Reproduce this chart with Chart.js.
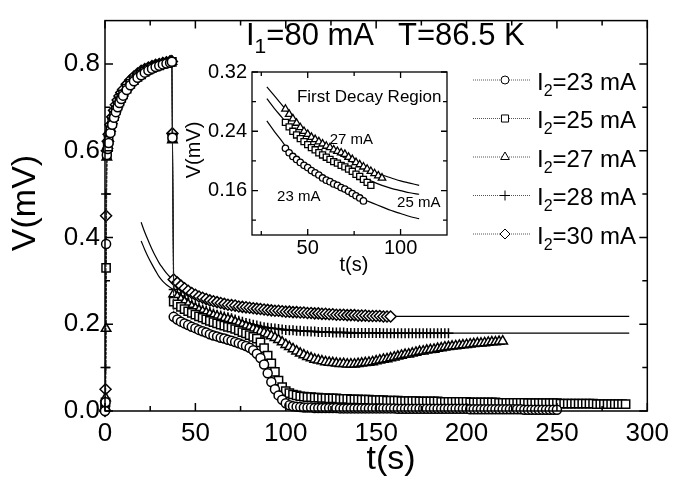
<!DOCTYPE html>
<html>
<head>
<meta charset="utf-8">
<script src="https://cdn.jsdelivr.net/npm/chart.js@4.4.1/dist/chart.umd.min.js"></script>
<style>
  body { margin: 0; background: #fff; }
  #wrap { position: relative; width: 676px; height: 488px; }
  #mainChart { position: absolute; left: 0; top: 0; }
  #insetChart { position: absolute; left: 170px; top: 55px; }
</style>
</head>
<body>
<div id="wrap">
  <canvas id="mainChart" width="676" height="488"></canvas>
  <canvas id="insetChart" width="290" height="225"></canvas>
</div>
<script>
const FONT = "'Liberation Sans', Arial, sans-serif";

// I2 values (mA), one series each
const seriesKeys = ["23", "25", "27", "28", "30"];

// time (s) of the rise part, then of the decay part
const riseTimes = [0, 0.3, 0.6, 1, 1.5, 2, 3, 4, 5, 6, 7, 8, 9, 10, 12, 14, 16, 18, 20, 22, 24, 26, 28, 30, 32, 34, 36, 37, 37.3];
const decayTimes = [38, 40, 42, 44, 46, 48, 50, 52, 54, 56, 58, 60, 62, 64, 66, 68, 70, 72, 74, 76, 78, 80, 82, 84, 86, 88, 90, 92, 94, 96, 98, 100,
  102, 104, 106, 108, 110, 112, 114, 116, 118, 120, 122, 124, 126, 128, 130, 132, 134, 136, 138, 140, 142, 144, 146, 148, 150, 152, 154, 156, 158, 160,
  162, 164, 166, 168, 170, 172, 174, 176, 178, 180, 182, 184, 186, 188, 190, 192, 194, 196, 198, 200, 202, 204, 206, 208, 210, 212, 214, 216, 218, 220,
  222, 224, 226, 228, 230, 232, 234, 236, 238, 240, 242, 244, 246, 248, 250, 252, 254, 256, 258, 260, 262, 264, 266, 268, 270, 272, 274, 276, 278, 280,
  282, 284, 286, 288];

// V (mV) during the rise
const rise23 = [0.0, 0.02, 0.385, 0.59, 0.604, 0.618, 0.641, 0.66, 0.676, 0.689, 0.7, 0.71, 0.719, 0.727, 0.74, 0.751, 0.76, 0.768, 0.774, 0.78, 0.785, 0.789, 0.793, 0.796, 0.799, 0.801, 0.803, 0.805, 0.63];
const rise25 = [0.01, 0.02, 0.33, 0.59, 0.608, 0.623, 0.646, 0.664, 0.68, 0.693, 0.704, 0.714, 0.722, 0.73, 0.743, 0.754, 0.763, 0.77, 0.776, 0.782, 0.787, 0.791, 0.794, 0.797, 0.8, 0.802, 0.804, 0.805, 0.63];
const rise27 = [0.01, 0.03, 0.19, 0.585, 0.612, 0.628, 0.651, 0.669, 0.684, 0.697, 0.708, 0.718, 0.726, 0.733, 0.746, 0.757, 0.765, 0.772, 0.778, 0.783, 0.788, 0.792, 0.795, 0.798, 0.801, 0.803, 0.805, 0.806, 0.625];
const rise28 = [0.02, 0.1, 0.5, 0.598, 0.618, 0.634, 0.656, 0.674, 0.689, 0.702, 0.713, 0.722, 0.73, 0.737, 0.75, 0.76, 0.768, 0.775, 0.781, 0.786, 0.79, 0.794, 0.797, 0.8, 0.802, 0.804, 0.805, 0.806, 0.635];
const rise30 = [0.0, 0.05, 0.45, 0.6, 0.622, 0.638, 0.66, 0.678, 0.693, 0.706, 0.717, 0.726, 0.734, 0.741, 0.753, 0.763, 0.771, 0.778, 0.784, 0.788, 0.792, 0.795, 0.798, 0.8, 0.802, 0.804, 0.806, 0.806, 0.64];

// V (mV) during the decay, from decayTimes[0] on
const decay23 = [0.217, 0.211, 0.206, 0.202, 0.198, 0.194, 0.191, 0.187, 0.184, 0.181,
  0.177, 0.174, 0.172, 0.169, 0.167, 0.164, 0.162, 0.159, 0.156, 0.153,
  0.150, 0.146, 0.140, 0.132, 0.122, 0.107, 0.087, 0.067, 0.050, 0.036,
  0.026, 0.018, 0.013, 0.011, 0.010, 0.009, 0.008, 0.008, 0.008, 0.007,
  0.007, 0.007, 0.007, 0.007, 0.007, 0.007, 0.006, 0.006, 0.006, 0.006,
  0.006, 0.006, 0.006, 0.006, 0.006, 0.006, 0.006, 0.006, 0.006, 0.006,
  0.006, 0.006, 0.005, 0.005, 0.005, 0.005, 0.005, 0.005, 0.005, 0.005,
  0.005, 0.005, 0.005, 0.005, 0.005, 0.005, 0.005, 0.005, 0.005, 0.005,
  0.005, 0.005, 0.004, 0.004, 0.004, 0.004, 0.004, 0.004, 0.004, 0.004,
  0.004, 0.004, 0.004, 0.004, 0.004, 0.004, 0.004, 0.003, 0.003, 0.003,
  0.003, 0.003, 0.003, 0.003, 0.003, 0.003, 0.003];
const decay25 = [0.252, 0.246, 0.240, 0.235, 0.230, 0.226, 0.222, 0.218, 0.215, 0.211,
  0.208, 0.205, 0.202, 0.199, 0.197, 0.194, 0.192, 0.189, 0.186, 0.182,
  0.179, 0.175, 0.171, 0.167, 0.158, 0.145, 0.128, 0.110, 0.090, 0.070,
  0.055, 0.046, 0.041, 0.038, 0.036, 0.034, 0.033, 0.032, 0.032, 0.031,
  0.031, 0.030, 0.030, 0.029, 0.029, 0.029, 0.028, 0.028, 0.028, 0.027,
  0.027, 0.027, 0.026, 0.026, 0.026, 0.025, 0.025, 0.025, 0.025, 0.024,
  0.024, 0.024, 0.024, 0.023, 0.023, 0.023, 0.023, 0.023, 0.022, 0.022,
  0.022, 0.022, 0.022, 0.022, 0.021, 0.021, 0.021, 0.021, 0.021, 0.021,
  0.021, 0.021, 0.020, 0.020, 0.020, 0.020, 0.020, 0.020, 0.020, 0.020,
  0.019, 0.019, 0.019, 0.019, 0.019, 0.019, 0.019, 0.019, 0.018, 0.018,
  0.018, 0.018, 0.018, 0.018, 0.018, 0.018, 0.018, 0.017, 0.017, 0.017,
  0.017, 0.017, 0.017, 0.017, 0.017, 0.017, 0.017, 0.016, 0.016, 0.016,
  0.016, 0.016, 0.016, 0.016, 0.016, 0.016];
const decay27 = [0.270, 0.263, 0.257, 0.251, 0.245, 0.240, 0.236, 0.232, 0.229, 0.226,
  0.223, 0.220, 0.218, 0.215, 0.213, 0.211, 0.209, 0.205, 0.202, 0.198,
  0.195, 0.192, 0.189, 0.186, 0.183, 0.180, 0.177, 0.173, 0.169, 0.164,
  0.159, 0.153, 0.148, 0.143, 0.138, 0.133, 0.129, 0.125, 0.122, 0.119,
  0.117, 0.115, 0.113, 0.112, 0.111, 0.110, 0.109, 0.109, 0.108, 0.108,
  0.108, 0.109, 0.110, 0.111, 0.112, 0.113, 0.115, 0.117, 0.119, 0.120,
  0.122, 0.124, 0.126, 0.128, 0.130, 0.131, 0.133, 0.135, 0.137, 0.138,
  0.140, 0.141, 0.142, 0.144, 0.145, 0.147, 0.148, 0.149, 0.150, 0.151,
  0.152, 0.153, 0.154, 0.155, 0.156, 0.156, 0.157, 0.158, 0.159, 0.159,
  0.160, 0.161];
const decay28 = [0.280, 0.272, 0.265, 0.258, 0.251, 0.246, 0.242, 0.238, 0.234, 0.231,
  0.228, 0.225, 0.222, 0.220, 0.218, 0.216, 0.214, 0.211, 0.208, 0.206,
  0.203, 0.201, 0.199, 0.197, 0.195, 0.193, 0.192, 0.191, 0.190, 0.189,
  0.188, 0.187, 0.186, 0.186, 0.185, 0.185, 0.184, 0.184, 0.183, 0.183,
  0.182, 0.182, 0.182, 0.182, 0.181, 0.181, 0.181, 0.181, 0.180, 0.180,
  0.180, 0.180, 0.180, 0.180, 0.180, 0.180, 0.180, 0.180, 0.179, 0.179,
  0.179, 0.179, 0.179, 0.179, 0.179, 0.179, 0.179, 0.179, 0.179, 0.179,
  0.179, 0.179, 0.179, 0.179, 0.179, 0.179, 0.179];
const decay30 = [0.303, 0.296, 0.289, 0.283, 0.277, 0.272, 0.268, 0.264, 0.261, 0.258,
  0.255, 0.253, 0.251, 0.249, 0.247, 0.245, 0.244, 0.243, 0.241, 0.240,
  0.239, 0.238, 0.237, 0.236, 0.235, 0.234, 0.233, 0.232, 0.231, 0.231,
  0.230, 0.229, 0.229, 0.228, 0.228, 0.227, 0.227, 0.226, 0.226, 0.225,
  0.225, 0.224, 0.224, 0.223, 0.223, 0.222, 0.222, 0.222, 0.221, 0.221,
  0.221, 0.220, 0.220, 0.220, 0.219, 0.219, 0.219, 0.219, 0.218, 0.218,
  0.218];

// fitted curves on the main plot (30 mA and 28 mA)
const fitTimes = [20, 22, 24, 26, 28, 30, 32, 34, 36, 38, 45, 50, 60, 70, 80, 90, 100, 120, 140, 160, 190, 220, 290];
const fit30 = [0.435, 0.412, 0.392, 0.373, 0.356, 0.341, 0.329, 0.318, 0.309, 0.302, 0.280, 0.268, 0.253, 0.244, 0.237, 0.233, 0.229, 0.224, 0.220, 0.218, 0.218, 0.218, 0.218];
const fit28 = [0.392, 0.372, 0.354, 0.338, 0.323, 0.309, 0.299, 0.291, 0.285, 0.279, 0.257, 0.243, 0.225, 0.213, 0.201, 0.193, 0.188, 0.183, 0.181, 0.180, 0.1795, 0.1795, 0.1795];

// inset: first decay region (23, 25, 27 mA) and its fits
const insetKeys = ["23", "25", "27"];
const insetCounts = [22, 24, 27];
const insetFitTimes = [28, 32, 36, 40, 45, 50, 55, 60, 65, 70, 75, 80, 85, 90, 95, 100, 105, 110];
const insetFit23 = [0.254, 0.240, 0.227, 0.213, 0.200, 0.190, 0.181, 0.173, 0.166, 0.160, 0.154, 0.148, 0.143, 0.138, 0.133, 0.129, 0.125, 0.122];
const insetFit25 = [0.284, 0.271, 0.259, 0.247, 0.234, 0.222, 0.212, 0.204, 0.197, 0.190, 0.184, 0.178, 0.172, 0.167, 0.163, 0.160, 0.157, 0.155];
const insetFit27 = [0.300, 0.288, 0.276, 0.264, 0.250, 0.238, 0.228, 0.219, 0.211, 0.204, 0.197, 0.191, 0.186, 0.181, 0.177, 0.173, 0.170, 0.167];

// ticks
const xTicks = [0, 50, 100, 150, 200, 250, 300];
const xMinor = [25, 75, 125, 175, 225, 275];
const yTicks = [0, 0.2, 0.4, 0.6, 0.8];
const yMinor = [0.1, 0.3, 0.5, 0.7];
const insetXTicks = [50, 100];
const insetXMinor = [25, 75];
const insetYTicks = [0.16, 0.24, 0.32];
const insetYMinor = [0.12, 0.20, 0.28];

const rises = { "23": rise23, "25": rise25, "27": rise27, "28": rise28, "30": rise30 };
const decays = { "23": decay23, "25": decay25, "27": decay27, "28": decay28, "30": decay30 };

// marker style, radius on main plot, radius in inset, radius in legend
const marker = {
  "23": ["circle", 4.5, 3.2, 4],
  "25": ["rect", 5.8, 4.3, 5],
  "27": ["triangle", 5.5, 4.3, 5],
  "28": ["cross", 5, 4, 5],
  "30": ["rectRot", 5.5, 4, 5]
};

function markerSet(points, style, r, bw) {
  return {
    data: points,
    pointStyle: style,
    pointRadius: r,
    pointBackgroundColor: "#fff",
    pointBorderColor: "#000",
    pointBorderWidth: bw,
    borderColor: "#222",
    borderWidth: 1,
    borderDash: [3, 1],
    clip: false
  };
}

function fitSet(times, vals, w) {
  return {
    data: times.map((t, i) => ({ x: t, y: vals[i] })),
    pointRadius: 0,
    borderColor: "#000",
    borderWidth: w,
    cubicInterpolationMode: "monotone"
  };
}

function frameTicks(xMajor, xMin, yMajor, yMin, majLen, minLen, lw) {
  return {
    id: "frameTicks",
    afterDatasetsDraw(chart) {
      const { ctx, chartArea: a } = chart;
      const sx = chart.scales.x, sy = chart.scales.y;
      ctx.save();
      ctx.strokeStyle = "#000";
      ctx.lineWidth = lw;
      ctx.strokeRect(a.left, a.top, a.right - a.left, a.bottom - a.top);
      ctx.beginPath();
      const xt = (v, len) => {
        const p = sx.getPixelForValue(v);
        ctx.moveTo(p, a.bottom); ctx.lineTo(p, a.bottom - len);
        ctx.moveTo(p, a.top); ctx.lineTo(p, a.top + len);
      };
      const yt = (v, len) => {
        const p = sy.getPixelForValue(v);
        ctx.moveTo(a.left, p); ctx.lineTo(a.left + len, p);
        ctx.moveTo(a.right, p); ctx.lineTo(a.right - len, p);
      };
      xMajor.forEach(v => xt(v, majLen));
      xMin.forEach(v => xt(v, minLen));
      yMajor.forEach(v => yt(v, majLen));
      yMin.forEach(v => yt(v, minLen));
      ctx.stroke();
      ctx.restore();
    }
  };
}

// text with one subscript, e.g. I + 1 + "=80 mA"
function subText(ctx, x, y, head, sub, rest, size, subSize) {
  ctx.font = size + "px " + FONT;
  ctx.fillText(head, x, y);
  x += ctx.measureText(head).width;
  ctx.font = subSize + "px " + FONT;
  ctx.fillText(sub, x, y + size * 0.27);
  x += ctx.measureText(sub).width;
  ctx.font = size + "px " + FONT;
  ctx.fillText(rest, x, y);
}

function drawMarker(ctx, style, x, y, r) {
  ctx.beginPath();
  if (style === "circle") {
    ctx.arc(x, y, r, 0, Math.PI * 2);
  } else if (style === "rect") {
    const s = r * Math.SQRT1_2;
    ctx.rect(x - s, y - s, 2 * s, 2 * s);
  } else if (style === "triangle") {
    for (let i = 0; i < 3; i++) {
      const ang = i * 2 * Math.PI / 3;
      const px = x + Math.sin(ang) * r, py = y - Math.cos(ang) * r;
      if (i === 0) ctx.moveTo(px, py); else ctx.lineTo(px, py);
    }
    ctx.closePath();
  } else if (style === "rectRot") {
    ctx.moveTo(x - r, y); ctx.lineTo(x, y - r); ctx.lineTo(x + r, y); ctx.lineTo(x, y + r);
    ctx.closePath();
  } else {
    ctx.moveTo(x, y - r); ctx.lineTo(x, y + r);
    ctx.moveTo(x - r, y); ctx.lineTo(x + r, y);
  }
  if (style !== "cross") { ctx.fillStyle = "#fff"; ctx.fill(); }
  ctx.stroke();
}

const mainText = {
  id: "mainText",
  afterDraw(chart) {
    const ctx = chart.ctx;
    ctx.save();
    ctx.fillStyle = "#000";
    ctx.textBaseline = "alphabetic";
    ctx.textAlign = "left";
    subText(ctx, 246, 45, "I", "1", "=80 mA", 31, 21);
    ctx.font = "31px " + FONT;
    ctx.fillText("T=86.5 K", 398, 45);

    // legend
    seriesKeys.forEach((k, i) => {
      const y = 80 + i * 38.5;
      ctx.strokeStyle = "#555";
      ctx.lineWidth = 1;
      ctx.setLineDash([1, 1]);
      ctx.beginPath();
      ctx.moveTo(473, y); ctx.lineTo(530, y);
      ctx.stroke();
      ctx.setLineDash([]);
      ctx.strokeStyle = "#000";
      drawMarker(ctx, marker[k][0], 505, y, marker[k][3]);
      ctx.fillStyle = "#000";
      subText(ctx, 537, y + 9.5, "I", "2", "=" + k + " mA", 24, 16);
    });

    // axis titles
    ctx.font = "34px " + FONT;
    ctx.textAlign = "center";
    ctx.textBaseline = "middle";
    ctx.fillText("t(s)", 391, 460);
    ctx.translate(26, 203);
    ctx.rotate(-Math.PI / 2);
    ctx.fillText("V(mV)", 0, 0);
    ctx.restore();
  }
};

const mainSets = seriesKeys.map(k => markerSet(
  riseTimes.map((t, i) => ({ x: t, y: rises[k][i] }))
    .concat(decays[k].map((v, i) => ({ x: decayTimes[i], y: v }))),
  marker[k][0], marker[k][1], 1.5));
mainSets.push(fitSet(fitTimes, fit30, 1.2), fitSet(fitTimes, fit28, 1.2));

const tickFont = { family: FONT, size: 26 };

new Chart(document.getElementById("mainChart"), {
  type: "line",
  data: { datasets: mainSets },
  options: {
    responsive: false,
    animation: false,
    events: [],
    layout: { padding: { top: 3, right: 23, left: 0, bottom: 0 } },
    plugins: { legend: { display: false }, tooltip: { enabled: false } },
    scales: {
      x: {
        type: "linear", min: 0, max: 300,
        grid: { display: false, drawTicks: false },
        border: { display: false },
        afterBuildTicks: s => { s.ticks = xTicks.map(v => ({ value: v })); },
        afterFit: s => { s.height = 77; },
        ticks: { color: "#000", font: tickFont, padding: 7, maxRotation: 0, autoSkip: false }
      },
      y: {
        type: "linear", min: 0, max: 0.9,
        grid: { display: false, drawTicks: false },
        border: { display: false },
        afterBuildTicks: s => { s.ticks = yTicks.map(v => ({ value: v })); },
        afterFit: s => { s.width = 105; },
        ticks: { color: "#000", font: tickFont, padding: 5, callback: v => v.toFixed(1) }
      }
    }
  },
  plugins: [frameTicks(xTicks, xMinor, yTicks, yMinor, 8, 5, 1.5), mainText]
});

// inset
const insetLabels = [
  ["First Decay Region", 44.2, 0.286, 17],
  ["27 mA", 61.8, 0.228, 15],
  ["23 mA", 33.5, 0.151, 15],
  ["25 mA", 98.1, 0.143, 15]
];

const insetText = {
  id: "insetText",
  afterDraw(chart) {
    const ctx = chart.ctx;
    const sx = chart.scales.x, sy = chart.scales.y;
    ctx.save();
    ctx.fillStyle = "#000";
    ctx.textAlign = "left";
    ctx.textBaseline = "middle";
    insetLabels.forEach(([txt, t, v, size]) => {
      ctx.font = size + "px " + FONT;
      ctx.fillText(txt, sx.getPixelForValue(t), sy.getPixelForValue(v));
    });
    ctx.font = "20px " + FONT;
    ctx.textAlign = "center";
    ctx.fillText("t(s)", 184, 210);
    ctx.translate(24, 95);
    ctx.rotate(-Math.PI / 2);
    ctx.fillText("V(mV)", 0, 0);
    ctx.restore();
  }
};

const insetSets = insetKeys.map((k, j) => markerSet(
  decays[k].slice(0, insetCounts[j]).map((v, i) => ({ x: decayTimes[i], y: v })),
  marker[k][0], marker[k][2], 1.3));
insetSets.push(fitSet(insetFitTimes, insetFit23, 1.2), fitSet(insetFitTimes, insetFit25, 1.2), fitSet(insetFitTimes, insetFit27, 1.2));

const insetFont = { family: FONT, size: 20 };

new Chart(document.getElementById("insetChart"), {
  type: "line",
  data: { datasets: insetSets },
  options: {
    responsive: false,
    animation: false,
    events: [],
    layout: { padding: { top: 17, right: 13, left: 0, bottom: 0 } },
    plugins: { legend: { display: false }, tooltip: { enabled: false } },
    scales: {
      x: {
        type: "linear", min: 20, max: 125,
        grid: { display: false, drawTicks: false },
        border: { display: false },
        afterBuildTicks: s => { s.ticks = insetXTicks.map(v => ({ value: v })); },
        afterFit: s => { s.height = 45; },
        ticks: { color: "#000", font: insetFont, padding: 1, maxRotation: 0, autoSkip: false }
      },
      y: {
        type: "linear", min: 0.10, max: 0.32,
        grid: { display: false, drawTicks: false },
        border: { display: false },
        afterBuildTicks: s => { s.ticks = insetYTicks.map(v => ({ value: v })); },
        afterFit: s => { s.width = 82; },
        ticks: { color: "#000", font: insetFont, padding: 5, callback: v => v.toFixed(2) }
      }
    }
  },
  plugins: [frameTicks(insetXTicks, insetXMinor, insetYTicks, insetYMinor, 6, 4, 1.3), insetText]
});
</script>
</body>
</html>
